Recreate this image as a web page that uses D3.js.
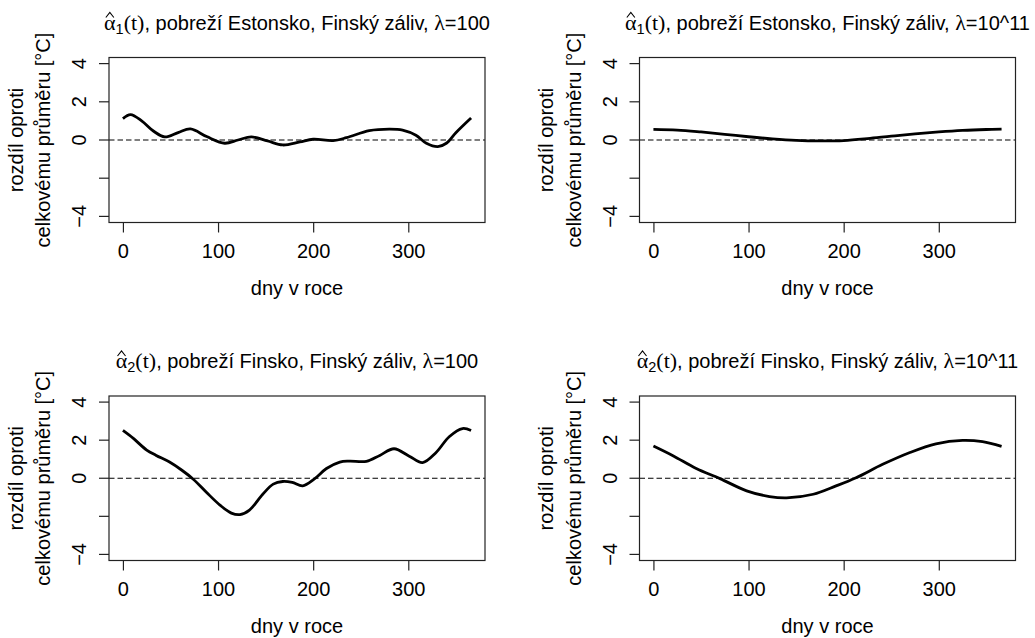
<!DOCTYPE html>
<html>
<head>
<meta charset="utf-8">
<script src="https://cdn.jsdelivr.net/npm/d3@7"></script>
<style>
  body { margin: 0; background: #fff; }
  svg text { font-family: "Liberation Sans", Arial, sans-serif; fill: #000; }
  .serif { font-family: "Liberation Serif", "Times New Roman", serif; }
</style>
</head>
<body>
<svg id="chart" width="1035" height="638"></svg>
<script>
// values (day of year -> difference from overall mean, °C)
const days1 = [0, 8, 20, 32, 44, 58, 71, 88, 107, 121, 135, 152, 168, 186, 200, 221, 235, 259, 280, 294, 308, 319, 331, 340, 350, 366];
const vals1 = [1.12, 1.33, 0.99, 0.47, 0.16, 0.39, 0.58, 0.18, -0.17, 0.0, 0.16, -0.05, -0.26, -0.1, 0.04, -0.03, 0.12, 0.49, 0.57, 0.52, 0.25, -0.17, -0.35, -0.17, 0.38, 1.15];

const days2 = [0, 25, 50, 75, 100, 125, 150, 175, 200, 225, 250, 275, 300, 325, 350, 366];
const vals2 = [0.56, 0.52, 0.42, 0.30, 0.17, 0.06, -0.02, -0.05, -0.03, 0.07, 0.20, 0.32, 0.42, 0.50, 0.55, 0.57];

const days3 = [0, 11, 25, 35, 49, 62, 74, 88, 102, 114, 123, 133, 147, 158, 168, 178, 189, 201, 214, 228, 238, 256, 270, 285, 301, 315, 329, 343, 357, 366];
const vals3 = [2.51, 2.09, 1.48, 1.2, 0.85, 0.42, -0.05, -0.75, -1.41, -1.83, -1.91, -1.67, -0.84, -0.31, -0.17, -0.22, -0.4, -0.05, 0.51, 0.85, 0.9, 0.89, 1.2, 1.55, 1.16, 0.82, 1.34, 2.18, 2.61, 2.51];

const days4 = [0, 21, 45, 70, 98, 122, 140, 168, 192, 213, 241, 269, 297, 325, 346, 366];
const vals4 = [1.69, 1.17, 0.51, -0.02, -0.66, -0.96, -1.03, -0.84, -0.4, 0.03, 0.73, 1.34, 1.81, 1.99, 1.92, 1.67];

const xTicks = [0, 100, 200, 300];
const yTicks = [-4, -2, 0, 2, 4];
const yTickLabels = {"-4": "\u22124", "-2": "", "0": "0", "2": "2", "4": "4"};

const xLabel = "dny v roce";
const yLabel1 = "rozdíl oproti";
const yLabel2 = "celkovému průměru [°C]";

// panel titles: alpha index, coast, lambda
const panels = [
    {days: days1, vals: vals1, idx: "1", coast: "Estonsko", lam: "100",    box: [109, 57.5, 485, 222.5]},
    {days: days2, vals: vals2, idx: "1", coast: "Estonsko", lam: "10^11",  box: [639.5, 57.5, 1015.5, 222.5]},
    {days: days3, vals: vals3, idx: "2", coast: "Finsko",   lam: "100",    box: [109, 396, 485, 560.5]},
    {days: days4, vals: vals4, idx: "2", coast: "Finsko",   lam: "10^11",  box: [639.5, 396, 1015.5, 560.5]}
];

const svg = d3.select('#chart');
const fs = 20;

panels.forEach(p => {
    let [x0, y0, x1, y1] = p.box;
    let x = d3.scaleLinear().domain([-14.64, 380.64]).range([x0, x1]);
    let y = d3.scaleLinear().domain([-4.32, 4.32]).range([y1, y0]);
    let g = svg.append('g');

    // zero reference line
    g.append('line')
        .attr('x1', x0).attr('x2', x1)
        .attr('y1', y(0)).attr('y2', y(0))
        .attr('stroke', '#000').attr('stroke-width', 1)
        .attr('stroke-dasharray', '5.5,3');

    // curve
    let line = d3.line()
        .x((d, i) => x(p.days[i]))
        .y(d => y(d))
        .curve(d3.curveCatmullRom.alpha(0.5));
    g.append('path')
        .attr('d', line(p.vals))
        .attr('fill', 'none')
        .attr('stroke', '#000')
        .attr('stroke-width', 2.8)
        .attr('stroke-linejoin', 'round');

    // box
    g.append('rect')
        .attr('x', x0).attr('y', y0)
        .attr('width', x1 - x0).attr('height', y1 - y0)
        .attr('fill', 'none').attr('stroke', '#222').attr('stroke-width', 1.2);

    // axes
    let xAxis = g.append('g')
        .attr('transform', `translate(0,${y1})`)
        .call(d3.axisBottom(x).tickValues(xTicks).tickSize(10).tickSizeOuter(0).tickFormat(d3.format('d')));
    xAxis.select('.domain').remove();
    xAxis.selectAll('line').attr('stroke', '#222').attr('stroke-width', 1.2);
    xAxis.selectAll('text')
        .attr('y', 0).attr('dy', null)
        .attr('transform', 'translate(0,35)')
        .style('font-size', fs + 'px')
        .style('font-family', '"Liberation Sans", Arial, sans-serif')
        .attr('fill', '#000');

    let yAxis = g.append('g')
        .attr('transform', `translate(${x0},0)`)
        .call(d3.axisLeft(y).tickValues(yTicks).tickSize(10).tickSizeOuter(0).tickFormat(d => yTickLabels[d]));
    yAxis.select('.domain').remove();
    yAxis.selectAll('.tick').attr('transform', null);
    yAxis.selectAll('.tick line')
        .attr('y1', d => y(d)).attr('y2', d => y(d))
        .attr('stroke', '#222').attr('stroke-width', 1.2);
    yAxis.selectAll('text')
        .attr('x', 0).attr('y', 0).attr('dy', null)
        .attr('text-anchor', 'middle')
        .attr('transform', d => `translate(-23,${y(d)}) rotate(-90)`)
        .style('font-size', fs + 'px')
        .style('font-family', '"Liberation Sans", Arial, sans-serif')
        .attr('fill', '#000');

    // axis titles
    g.append('text')
        .attr('x', (x0 + x1) / 2).attr('y', y1 + 72)
        .attr('text-anchor', 'middle')
        .style('font-size', fs + 'px')
        .text(xLabel);

    let yc = (y0 + y1) / 2;
    g.append('text')
        .attr('transform', `translate(${x0 - 86.5},${yc}) rotate(-90)`)
        .attr('text-anchor', 'middle')
        .style('font-size', fs + 'px')
        .text(yLabel1);
    g.append('text')
        .attr('transform', `translate(${x0 - 59},${yc}) rotate(-90)`)
        .attr('text-anchor', 'middle')
        .style('font-size', fs + 'px')
        .text(yLabel2);

    // title
    let ty = y0 - 28;
    let title = g.append('text')
        .attr('x', (x0 + x1) / 2).attr('y', ty)
        .attr('text-anchor', 'middle')
        .style('font-size', fs + 'px');
    title.append('tspan').attr('class', 'serif').style('font-size', '22px').text('α');
    title.append('tspan').attr('dy', 4).style('font-size', '14.5px').text(p.idx);
    title.append('tspan').attr('dy', -4).attr('class', 'serif').style('font-size', '22px').text('(t)');
    title.append('tspan').text(`, pobreží ${p.coast}, Finský záliv, `);
    title.append('tspan').attr('class', 'serif').style('font-size', '22px').text('λ');
    title.append('tspan').text('=' + p.lam);

    // hat above alpha, drawn as a small chevron
    let ext = title.node().getExtentOfChar(0);
    let cx = ext.x + ext.width / 2;
    g.append('path')
        .attr('d', `M${cx - 4},${ty - 12} L${cx},${ty - 17} L${cx + 4},${ty - 12}`)
        .attr('fill', 'none').attr('stroke', '#000').attr('stroke-width', 1.1);
});
</script>
</body>
</html>
